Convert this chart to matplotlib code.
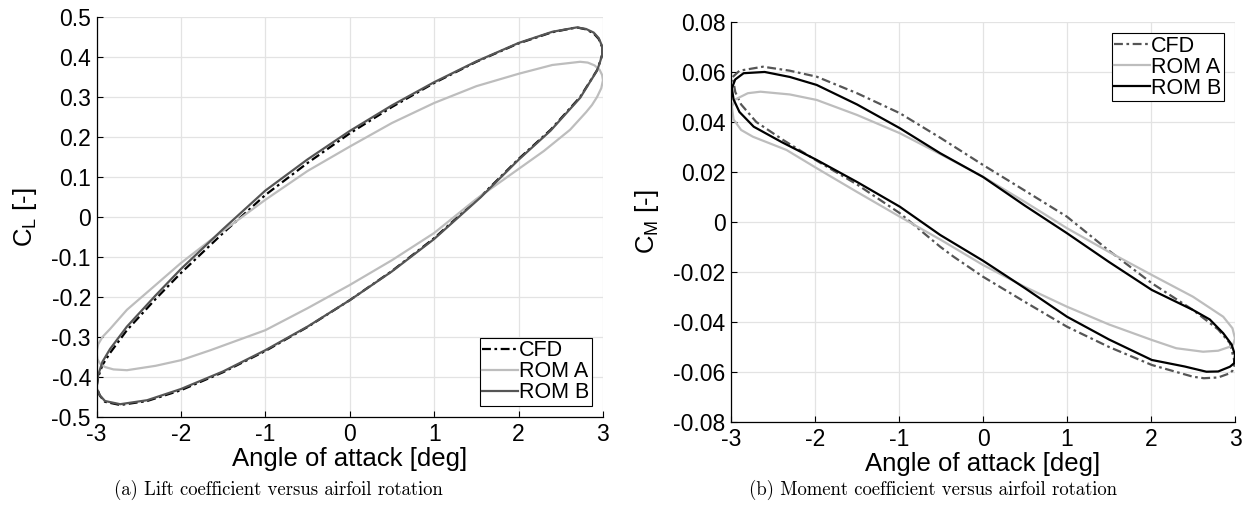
import numpy as np
import matplotlib
matplotlib.use("Agg")
import matplotlib.pyplot as plt
from matplotlib.ticker import FuncFormatter, MultipleLocator

plt.rcParams['font.family'] = ['Liberation Sans', 'DejaVu Sans']
plt.rcParams['axes.unicode_minus'] = False

# lift loops: alpha [deg], CL [-]
alpha_cl_cfd = [-3.00, -2.98, -2.93, -2.84, -2.64, -2.30, -2.00, -1.50, -1.00, -0.50, 0.00, 0.50,
                1.00, 1.50, 2.00, 2.40, 2.69, 2.80, 2.89, 2.95, 2.99, 2.99, 2.96, 2.93, 2.85, 2.73,
                2.38, 2.00, 1.55, 1.00, 0.50, 0.00, -0.50, -1.00, -1.50, -2.00, -2.40, -2.72,
                -2.90, -2.96, -3.00]
cl_cfd = [-0.425, -0.400, -0.370, -0.340, -0.283, -0.205, -0.140, -0.040, 0.055, 0.135, 0.209, 0.275,
          0.335, 0.388, 0.434, 0.462, 0.474, 0.469, 0.459, 0.445, 0.425, 0.405, 0.385, 0.367, 0.340, 0.300,
          0.218, 0.145, 0.051, -0.053, -0.135, -0.208, -0.275, -0.335, -0.388, -0.433, -0.460, -0.470,
          -0.462, -0.447, -0.425]

alpha_cl_roma = [-3.00, -2.98, -2.93, -2.84, -2.64, -2.30, -2.00, -1.65, -1.00, -0.50, 0.00, 0.50,
                 1.00, 1.50, 2.00, 2.40, 2.73, 2.82, 2.90, 2.96, 2.99, 3.00, 2.98, 2.93, 2.87, 2.80,
                 2.61, 2.30, 2.00, 1.50, 1.00, 0.50, 0.00, -0.50, -1.00, -1.65, -2.00, -2.30, -2.64,
                 -2.80, -2.90, -2.96, -2.99, -3.00]
cl_roma = [-0.338, -0.318, -0.300, -0.280, -0.232, -0.170, -0.115, -0.058, 0.043, 0.115, 0.176, 0.235,
           0.285, 0.327, 0.358, 0.380, 0.388, 0.386, 0.379, 0.368, 0.355, 0.342, 0.322, 0.300, 0.280, 0.262,
           0.218, 0.165, 0.120, 0.045, -0.040, -0.108, -0.170, -0.228, -0.283, -0.333, -0.358, -0.372,
           -0.383, -0.381, -0.375, -0.366, -0.355, -0.338]

alpha_cl_romb = [-3.00, -2.98, -2.93, -2.84, -2.64, -2.30, -2.00, -1.50, -1.00, -0.50, 0.00, 0.50,
                 1.00, 1.50, 2.00, 2.40, 2.69, 2.80, 2.89, 2.95, 2.99, 2.99, 2.96, 2.93, 2.85, 2.73,
                 2.38, 2.00, 1.55, 1.00, 0.50, 0.00, -0.50, -1.00, -1.50, -2.00, -2.40, -2.72,
                 -2.90, -2.96, -3.00]
cl_romb = [-0.428, -0.395, -0.362, -0.330, -0.274, -0.196, -0.130, -0.030, 0.066, 0.144, 0.215, 0.279,
           0.337, 0.389, 0.435, 0.463, 0.474, 0.470, 0.461, 0.447, 0.427, 0.405, 0.384, 0.366, 0.339, 0.298,
           0.216, 0.143, 0.049, -0.055, -0.136, -0.208, -0.274, -0.333, -0.386, -0.430, -0.458, -0.468,
           -0.460, -0.446, -0.428]

# moment loops: alpha [deg], CM [-]
alpha_cm_cfd = [-2.98, -2.90, -2.62, -2.30, -1.98, -1.50, -0.99, -0.50, 0.00, 0.50, 1.00, 1.50, 2.01,
                2.50, 2.80, 2.94, 3.00, 2.97, 2.94, 2.80, 2.63, 2.50, 2.01, 1.50, 1.00, 0.50, 0.00,
                -0.35, -0.51, -0.99, -1.50, -1.98, -2.38, -2.70, -2.88, -2.95, -2.98]
cm_cfd = [0.0580, 0.0605, 0.0621, 0.0605, 0.0581, 0.0515, 0.0435, 0.0335, 0.0228, 0.0125, 0.0021, -0.0115,
          -0.0245, -0.0352, -0.0430, -0.0485, -0.0565, -0.0595, -0.0605, -0.0622, -0.0625, -0.0619, -0.0572,
          -0.0500, -0.0419, -0.0320, -0.0219, -0.0139, -0.0099, 0.0035, 0.0150, 0.0245, 0.0328, 0.0400,
          0.0470, 0.0520, 0.0580]

alpha_cm_roma = [-2.99, -2.95, -2.80, -2.65, -2.30, -1.98, -1.50, -0.99, -0.50, 0.00, 0.50, 1.00, 1.50,
                 2.01, 2.50, 2.86, 2.97, 3.00, 2.98, 2.94, 2.80, 2.62, 2.30, 2.01, 1.50, 1.00, 0.50,
                 0.00, -0.50, -0.99, -1.50, -1.98, -2.34, -2.74, -2.88, -2.97, -2.99]
cm_roma = [0.0461, 0.0490, 0.0515, 0.0521, 0.0510, 0.0488, 0.0428, 0.0355, 0.0270, 0.0181, 0.0080, -0.0025,
           -0.0120, -0.0212, -0.0299, -0.0379, -0.0425, -0.0465, -0.0490, -0.0499, -0.0515, -0.0519, -0.0505,
           -0.0472, -0.0410, -0.0339, -0.0260, -0.0172, -0.0072, 0.0021, 0.0120, 0.0215, 0.0288, 0.0341,
           0.0368, 0.0410, 0.0461]

alpha_cm_romb = [-2.99, -2.95, -2.85, -2.60, -2.30, -1.98, -1.50, -0.99, -0.51, 0.00, 0.50, 1.00, 1.50,
                 2.01, 2.50, 2.70, 2.86, 2.96, 3.00, 2.99, 2.94, 2.80, 2.66, 2.40, 2.01, 1.50, 1.00,
                 0.50, 0.00, -0.51, -0.99, -1.50, -1.98, -2.40, -2.73, -2.90, -2.97, -2.99]
cm_romb = [0.0535, 0.0570, 0.0595, 0.0600, 0.0580, 0.0548, 0.0470, 0.0375, 0.0275, 0.0180, 0.0065, -0.0045,
           -0.0160, -0.0272, -0.0352, -0.0390, -0.0445, -0.0490, -0.0532, -0.0565, -0.0579, -0.0598, -0.0599,
           -0.0578, -0.0552, -0.0470, -0.0379, -0.0265, -0.0155, -0.0052, 0.0061, 0.0160, 0.0248, 0.0320,
           0.0381, 0.0440, 0.0490, 0.0535]

labels = ['CFD', 'ROM A', 'ROM B']
dashdot = (0, (4, 1.6, 1.2, 1.6))
light = '#bdbdbd'
dark = '#555555'


def style_axes(ax, ylim, ystep):
    ax.set_xlim(-3, 3)
    ax.set_ylim(*ylim)
    ax.xaxis.set_major_locator(MultipleLocator(1))
    ax.yaxis.set_major_locator(MultipleLocator(ystep))
    fmt = FuncFormatter(lambda v, p: '%g' % round(v, 6))
    ax.xaxis.set_major_formatter(fmt)
    ax.yaxis.set_major_formatter(fmt)
    ax.grid(True, color='#e3e3e3', linewidth=0.9)
    ax.set_axisbelow(True)
    for s in ['top', 'right']:
        ax.spines[s].set_visible(False)
    for s in ['left', 'bottom']:
        ax.spines[s].set_linewidth(0.9)
    ax.tick_params(direction='in', length=4, width=0.8, labelsize=16.5, pad=4)
    ax.set_xlabel('Angle of attack [deg]', fontsize=18.5, labelpad=1)


def add_legend(ax, loc, anchor):
    leg = ax.legend(labels, loc=loc, bbox_to_anchor=anchor, fontsize=15.5, frameon=True,
                    fancybox=False, edgecolor='black', framealpha=1, borderaxespad=0,
                    handlelength=1.65, handletextpad=0.05, borderpad=0.12, labelspacing=0.0)
    leg.get_frame().set_linewidth(0.8)


fig = plt.figure(figsize=(12.52, 5.07), dpi=100)

# (a) lift
ax1 = fig.add_axes([0.0771, 0.1775, 0.4045, 0.789])
ax1.plot(alpha_cl_cfd, cl_cfd, color='black', linestyle=dashdot, linewidth=1.6)
ax1.plot(alpha_cl_roma, cl_roma, color=light, linewidth=1.6)
ax1.plot(alpha_cl_romb, cl_romb, color=dark, linewidth=1.6)
style_axes(ax1, (-0.5, 0.5), 0.1)
ax1.set_ylabel(r'C$_\mathregular{L}$ [-]', fontsize=18.5, labelpad=9)
add_legend(ax1, 'lower right', (0.978, 0.0275))

# (b) moment
ax2 = fig.add_axes([0.5839, 0.1677, 0.4025, 0.789])
ax2.plot(alpha_cm_cfd, cm_cfd, color=dark, linestyle=dashdot, linewidth=1.6)
ax2.plot(alpha_cm_roma, cm_roma, color=light, linewidth=1.6)
ax2.plot(alpha_cm_romb, cm_romb, color='black', linewidth=1.6)
style_axes(ax2, (-0.08, 0.08), 0.02)
ax2.set_ylabel(r'C$_\mathregular{M}$ [-]', fontsize=18.5, labelpad=9)
add_legend(ax2, 'upper right', (0.978, 0.9725))

fig.text(0.222, 0.034, '(a) Lift coefficient versus airfoil rotation',
         family='cmr10', fontsize=13.5, ha='center', va='center')
fig.text(0.745, 0.034, '(b) Moment coefficient versus airfoil rotation',
         family='cmr10', fontsize=13.5, ha='center', va='center')

fig.savefig('out.png', dpi=100)
